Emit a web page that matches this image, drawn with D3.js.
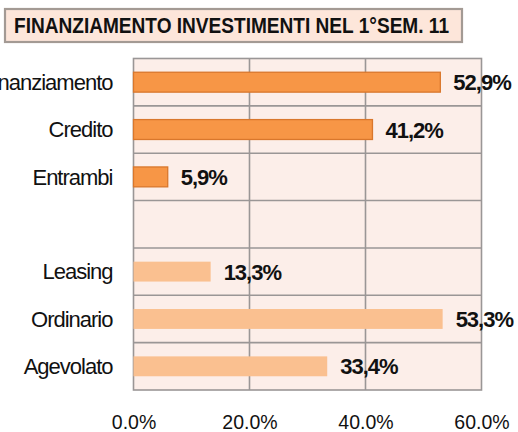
<!DOCTYPE html>
<html>
<head>
<meta charset="utf-8">
<script src="https://cdn.jsdelivr.net/npm/d3@7"></script>
<style>
  html, body { margin: 0; padding: 0; background: #ffffff; }
  svg { display: block; font-family: "Liberation Sans", Arial, sans-serif; }
</style>
</head>
<body>
<svg id="chart" width="518" height="432"></svg>
<script>
// Financing sources for investments, first half 2011 (percent of firms)
const categories = ["Autofinanziamento", "Credito", "Entrambi", "", "Leasing", "Ordinario", "Agevolato"];
const values = [52.9, 41.2, 5.9, null, 13.3, 53.3, 33.4];
const groups = ["fonte", "fonte", "fonte", "", "credito", "credito", "credito"];
const xTicks = [0, 20, 40, 60];
const title = "FINANZIAMENTO INVESTIMENTI NEL 1°SEM. 11";

const svg = d3.select("#chart");

const plot = { left: 133.5, right: 481.5, top: 58.5, bottom: 390 };

const x = d3.scaleLinear().domain([0, 60]).range([plot.left, plot.right]);
const y = d3.scaleBand().domain(categories.map((c, i) => i))
  .range([plot.top, plot.bottom]).paddingInner(0.58).paddingOuter(0.29);

const fills = { fonte: "#F79646", credito: "#FAC090" };
const strokes = { fonte: "#D9772C", credito: "none" };

// Title box
const tb = svg.append("g");
tb.append("rect").attr("x", 5).attr("y", 9).attr("width", 457).attr("height", 33)
  .attr("fill", "#FDE6DA").attr("stroke", "#A39A94").attr("stroke-width", 2.2);
tb.append("text").attr("x", 14).attr("y", 33)
  .attr("font-size", 22).attr("font-weight", "bold").attr("fill", "#111")
  .attr("textLength", 435).attr("lengthAdjust", "spacingAndGlyphs")
  .text(title);

// Plot background
svg.append("rect").attr("x", plot.left).attr("y", plot.top)
  .attr("width", plot.right - plot.left).attr("height", plot.bottom - plot.top)
  .attr("fill", "#FCEEE9");

// Vertical gridlines
svg.append("g").selectAll("line").data(xTicks.slice(1, -1)).join("line")
  .attr("x1", d => x(d)).attr("x2", d => x(d))
  .attr("y1", plot.top).attr("y2", plot.bottom)
  .attr("stroke", "#9A9696").attr("stroke-width", 1.6);

// Category separators
svg.append("g").selectAll("line").data(d3.range(1, categories.length)).join("line")
  .attr("x1", plot.left).attr("x2", plot.right)
  .attr("y1", i => plot.top + i * y.step()).attr("y2", i => plot.top + i * y.step())
  .attr("stroke", "#9A9696").attr("stroke-width", 1.6);

// Frame
svg.append("rect").attr("x", plot.left).attr("y", plot.top)
  .attr("width", plot.right - plot.left).attr("height", plot.bottom - plot.top)
  .attr("fill", "none").attr("stroke", "#9A9696").attr("stroke-width", 1.6);

// Bars
const rows = categories.map((c, i) => ({ i, c, v: values[i], g: groups[i] })).filter(d => d.v != null);
svg.append("g").selectAll("rect").data(rows).join("rect")
  .attr("x", x(0)).attr("y", d => y(d.i))
  .attr("width", d => x(d.v) - x(0)).attr("height", y.bandwidth())
  .attr("fill", d => fills[d.g]).attr("stroke", d => strokes[d.g]).attr("stroke-width", 1.3);

// Value labels
svg.append("g").selectAll("text").data(rows).join("text")
  .attr("x", d => x(d.v) + 13).attr("y", d => y(d.i) + y.bandwidth() / 2 + 8)
  .attr("font-size", 22).attr("font-weight", "bold").attr("letter-spacing", -1)
  .attr("fill", "#111")
  .text(d => d3.format(".1f")(d.v).replace(".", ",") + "%");

// Category axis
const yAxis = d3.axisLeft(y).tickSize(0).tickPadding(21).tickFormat(i => categories[i]);
const ya = svg.append("g").attr("transform", `translate(${plot.left},0)`).call(yAxis);
ya.select(".domain").remove();
ya.selectAll("text").attr("font-size", 22).attr("letter-spacing", -1)
  .attr("font-family", "Liberation Sans, Arial, sans-serif").attr("fill", "#111")
  .attr("dy", "0.35em");

// Value axis labels
const xAxis = d3.axisBottom(x).tickValues(xTicks).tickSize(0).tickPadding(0)
  .tickFormat(d => d3.format(".1f")(d) + "%");
const xa = svg.append("g").attr("transform", `translate(0,${plot.bottom})`).call(xAxis);
xa.select(".domain").remove();
xa.selectAll("text").attr("font-size", 19.5)
  .attr("font-family", "Liberation Sans, Arial, sans-serif").attr("fill", "#111")
  .attr("dy", null).attr("y", 38.5);
</script>
</body>
</html>
